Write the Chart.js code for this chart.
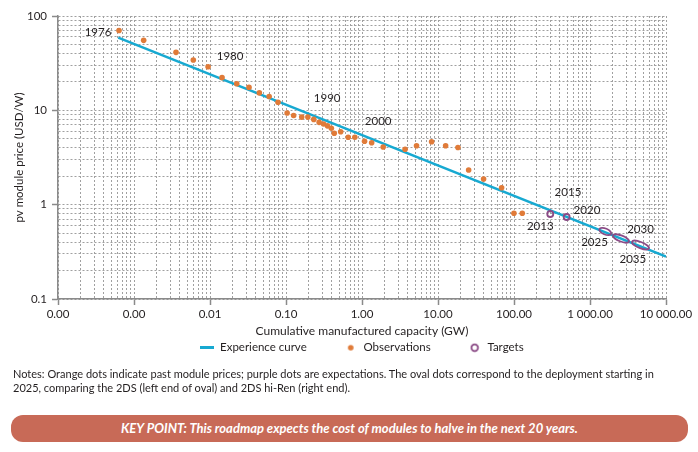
<!DOCTYPE html>
<html>
<head>
<meta charset="utf-8">
<script src="https://cdn.jsdelivr.net/npm/chart.js@4.4.1/dist/chart.umd.min.js"></script>
<style>
  body { margin: 0; background: #fff; }
  #wrap { position: relative; width: 698px; height: 452px; background: #fff; font-family: Lato, sans-serif; }
  #chart { position: absolute; left: 0; top: 0; }
  #notes { position: absolute; left: 13px; top: 367px; font-size: 11px; line-height: 14px; color: #231f20; white-space: nowrap; }
  #keypoint { position: absolute; left: 11px; top: 415px; width: 677px; height: 27px; border-radius: 12px;
    background: #c86a57; color: #fff; font-style: italic; font-weight: 700; font-size: 13px;
    line-height: 27px; text-align: center; }
</style>
</head>
<body>
<div id="wrap">
  <canvas id="chart" width="698" height="452"></canvas>
  <div id="notes">Notes: Orange dots indicate past module prices; purple dots are expectations. The oval dots correspond to the deployment starting in<br>2025, comparing the 2DS (left end of oval) and 2DS hi-Ren (right end).</div>
  <div id="keypoint">KEY POINT: This roadmap expects the cost of modules to halve in the next 20 years.</div>
</div>
<script>
// experience curve (end points of the fitted line)
const curveX = [0.00062, 10000];
const curveY = [58.9, 0.281];

// observations 1976 - 2012
const obsX = [0.000635, 0.00134, 0.00357, 0.00603, 0.00944, 0.0144, 0.0225, 0.0326, 0.0446, 0.0600,
  0.0785, 0.1035, 0.126, 0.161, 0.194, 0.232, 0.273, 0.312, 0.351, 0.395,
  0.431, 0.524, 0.658, 0.805, 1.08, 1.34, 1.90, 3.69, 5.22, 8.24,
  12.6, 18.3, 25.3, 39.8, 68.7, 99.8, 128.5];
const obsY = [70.2, 55.2, 41.2, 34.2, 29.0, 22.2, 19.1, 17.5, 15.3, 14.0,
  12.2, 9.37, 8.81, 8.48, 8.48, 8.01, 7.46, 7.16, 6.85, 6.46,
  5.71, 5.92, 5.19, 5.18, 4.70, 4.54, 4.09, 3.87, 4.22, 4.64,
  4.22, 4.04, 2.33, 1.87, 1.51, 0.81, 0.81];

// targets (2013, 2020)
const targetX = [300, 493];
const targetY = [0.796, 0.74];

// oval targets 2025, 2030, 2035: 2DS (left end) and 2DS hi-Ren (right end)
const ovalLowX = [1445, 2178, 3890];
const ovalLowY = [0.536, 0.461, 0.395];
const ovalHighX = [1750, 3006, 5485];
const ovalHighY = [0.503, 0.416, 0.353];

// axis ticks
const xMajor = [0.0001, 0.001, 0.01, 0.1, 1, 10, 100, 1000, 10000];
const xTickLabels = ['0.00', '0.00', '0.01', '0.10', '1.00', '10.00', '100.00', '1 000.00', '10 000.00'];
const yMajor = [0.1, 1, 10, 100];
const yTickLabels = ['0.1', '1', '10', '100'];

// year labels: which point they belong to
const yearLabels = [
  {text: '1976', set: 'obs', i: 0},
  {text: '1980', set: 'obs', i: 4},
  {text: '1990', set: 'obs', i: 14},
  {text: '2000', set: 'obs', i: 24},
  {text: '2013', set: 'target', i: 0},
  {text: '2015', set: 'target', i: 1},
  {text: '2020', set: 'target', i: 1},
  {text: '2025', set: 'oval', i: 0},
  {text: '2030', set: 'oval', i: 1},
  {text: '2035', set: 'oval', i: 2}
];
// label offsets from their point, in pixels
const labelOffsets = [[-21, 2], [22, -10.7], [19.3, -18.6], [13.6, -19.5], [-10, 12],
  [1.3, -24.5], [20.3, -7], [-10.8, 11], [19.5, -9.3], [-7.7, 14.2]];

const BLUE = '#17a9d1';
const ORANGE = '#e07b39';
const PURPLE = '#8b4b86';
const GRID = '#a0a0a0';
const AXIS = '#8a8a8a';
const TEXT = '#231f20';

Chart.defaults.font.family = 'Lato, sans-serif';
Chart.defaults.color = TEXT;

function toPoints(xs, ys) {
  return xs.map((x, i) => ({x: x, y: ys[i]}));
}

function isAt(v, list) {
  return list.findIndex(m => Math.abs(Math.log10(v) - Math.log10(m)) < 1e-6);
}

function logTicks(min, max, majors) {
  const out = [];
  for (let e = Math.round(Math.log10(min)); e < Math.round(Math.log10(max)); e++) {
    for (let d = 1; d <= 9; d++) {
      const v = Number((d * Math.pow(10, e)).toPrecision(6));
      out.push({value: v, major: isAt(v, majors) >= 0});
    }
  }
  out.push({value: max, major: true});
  return out;
}

function makeIcon(w, h, draw) {
  const c = document.createElement('canvas');
  c.width = w;
  c.height = h;
  draw(c.getContext('2d'), w, h);
  return c;
}

// legend icons, by dataset index
const legendIcons = [
  makeIcon(14, 3, (ctx, w, h) => { ctx.fillStyle = BLUE; ctx.fillRect(0, 0, w, h); }),
  makeIcon(8, 8, (ctx) => { ctx.fillStyle = ORANGE; ctx.beginPath(); ctx.arc(4, 4, 2.8, 0, Math.PI * 2); ctx.fill(); }),
  makeIcon(10, 10, (ctx) => { ctx.strokeStyle = PURPLE; ctx.lineWidth = 1.8; ctx.beginPath(); ctx.arc(5, 5, 3.3, 0, Math.PI * 2); ctx.stroke(); })
];

function ovalEnds(chart, i) {
  const xs = chart.scales.x, ys = chart.scales.y;
  return [
    {x: xs.getPixelForValue(ovalLowX[i]), y: ys.getPixelForValue(ovalLowY[i])},
    {x: xs.getPixelForValue(ovalHighX[i]), y: ys.getPixelForValue(ovalHighY[i])}
  ];
}

const extrasPlugin = {
  id: 'extras',
  afterLayout(chart) {
    // put the legend row just under the axis title (the legend clips to its own box)
    const lg = chart.legend;
    const pad = lg.options.labels.padding;
    const top = chart.scales.x.bottom + 2 - pad;
    lg.top = top;
    lg.bottom = top + pad + 20;
    lg.height = lg.bottom - lg.top;
  },
  afterDatasetsDraw(chart) {
    const ctx = chart.ctx;
    const xs = chart.scales.x, ys = chart.scales.y;
    ctx.save();
    // ovals
    ctx.strokeStyle = PURPLE;
    ctx.lineWidth = 1.8;
    const r = 3;
    const centers = [];
    for (let i = 0; i < ovalLowX.length; i++) {
      const [a, b] = ovalEnds(chart, i);
      const cx = (a.x + b.x) / 2, cy = (a.y + b.y) / 2;
      const half = Math.hypot(b.x - a.x, b.y - a.y) / 2;
      const ang = Math.atan2(b.y - a.y, b.x - a.x);
      ctx.beginPath();
      ctx.ellipse(cx, cy, half + r, r, ang, 0, Math.PI * 2);
      ctx.stroke();
      centers.push({x: cx, y: cy});
    }
    // year labels
    ctx.fillStyle = TEXT;
    ctx.font = '11.5px Lato, sans-serif';
    ctx.textAlign = 'center';
    ctx.textBaseline = 'middle';
    yearLabels.forEach((lab, k) => {
      let p;
      if (lab.set === 'obs') p = {x: xs.getPixelForValue(obsX[lab.i]), y: ys.getPixelForValue(obsY[lab.i])};
      else if (lab.set === 'target') p = {x: xs.getPixelForValue(targetX[lab.i]), y: ys.getPixelForValue(targetY[lab.i])};
      else p = centers[lab.i];
      ctx.fillText(lab.text, p.x + labelOffsets[k][0], p.y + labelOffsets[k][1]);
    });
    ctx.restore();
  }
};

function gridOptions() {
  return {
    color: GRID,
    lineWidth: 1,
    tickLength: 6,
    tickWidth: 1.5,
    tickBorderDash: [],
    tickColor: (c) => (c.tick && c.tick.major ? AXIS : 'rgba(0,0,0,0)')
  };
}

new Chart(document.getElementById('chart'), {
  type: 'scatter',
  data: {
    datasets: [
      {
        label: 'Experience curve',
        data: toPoints(curveX, curveY),
        showLine: true,
        borderColor: BLUE,
        backgroundColor: BLUE,
        borderWidth: 2.5,
        pointRadius: 0,
        order: 3
      },
      {
        label: 'Observations',
        data: toPoints(obsX, obsY),
        backgroundColor: ORANGE,
        borderWidth: 0,
        pointRadius: 2.8,
        order: 2
      },
      {
        label: 'Targets',
        data: toPoints(targetX, targetY),
        backgroundColor: 'rgba(0,0,0,0)',
        borderColor: PURPLE,
        borderWidth: 1.8,
        pointRadius: 3,
        order: 1
      }
    ]
  },
  options: {
    responsive: false,
    animation: false,
    layout: {padding: {top: 16, right: 32, bottom: 82, left: 0}},
    scales: {
      x: {
        type: 'logarithmic',
        min: 0.0001,
        max: 10000,
        afterBuildTicks: (s) => { s.ticks = logTicks(0.0001, 10000, xMajor); },
        afterFit: (s) => { s.height = 41; },
        ticks: {
          autoSkip: false,
          maxRotation: 0,
          minRotation: 0,
          padding: 2.5,
          font: {size: 11.5},
          callback: (v) => { const k = isAt(v, xMajor); return k >= 0 ? xTickLabels[k] : ''; }
        },
        grid: gridOptions(),
        border: {display: true, color: AXIS, width: 1.5, dash: [2, 2], z: 1},
        title: {
          display: true,
          text: 'Cumulative manufactured capacity (GW)',
          font: {size: 12},
          padding: {top: 0, bottom: 2}
        }
      },
      y: {
        type: 'logarithmic',
        min: 0.1,
        max: 100,
        afterBuildTicks: (s) => { s.ticks = logTicks(0.1, 100, yMajor); },
        afterFit: (s) => { s.width = 58; },
        ticks: {
          autoSkip: false,
          padding: 5,
          font: {size: 11.5},
          callback: (v) => { const k = isAt(v, yMajor); return k >= 0 ? yTickLabels[k] : ''; }
        },
        grid: gridOptions(),
        border: {display: true, color: AXIS, width: 1.5, dash: [2, 2], z: 1},
        title: {
          display: true,
          text: 'pv module price (USD/W)',
          font: {size: 11.5},
          padding: {top: 12.6, bottom: 0}
        }
      }
    },
    plugins: {
      tooltip: {enabled: false},
      legend: {
        position: 'bottom',
        fullSize: false,
        maxHeight: 30,
        labels: {
          usePointStyle: true,
          pointStyleWidth: 14,
          padding: 37,
          color: TEXT,
          font: {size: 11.5},
          generateLabels: (chart) => {
            const items = Chart.defaults.plugins.legend.labels.generateLabels(chart);
            items.sort((a, b) => a.datasetIndex - b.datasetIndex);
            items.forEach((it) => { it.pointStyle = legendIcons[it.datasetIndex]; });
            return items;
          }
        }
      }
    }
  },
  plugins: [extrasPlugin]
});
</script>
</body>
</html>
